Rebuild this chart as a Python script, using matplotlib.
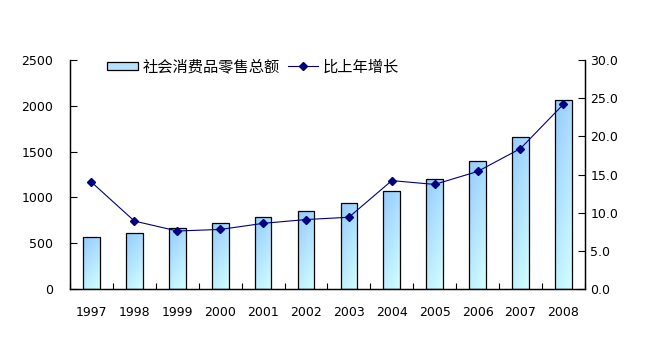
import numpy as np
import matplotlib
matplotlib.use('Agg')
from matplotlib import pyplot as plt
from matplotlib.lines import Line2D
from matplotlib.patches import Patch

plt.rcParams['font.family'] = ['DejaVu Sans']

years = ['1997', '1998', '1999', '2000', '2001', '2002', '2003', '2004', '2005', '2006', '2007', '2008']
retail_total = [564, 608, 663, 717, 786, 848, 935, 1066, 1204, 1397, 1656, 2060]
growth = [14.0, 8.9, 7.6, 7.8, 8.6, 9.1, 9.4, 14.2, 13.7, 15.4, 18.4, 24.2]

fig = plt.figure(figsize=(6.52, 3.41), dpi=100)
ax = fig.add_axes([0.1074, 0.1525, 0.7896, 0.6715])
ax2 = ax.twinx()

x = np.arange(len(years))
bars = ax.bar(x, retail_total, width=0.39, facecolor='none', edgecolor='black', linewidth=0.9, zorder=3)

# gradient fill inside each bar: blue at top-left, pale cyan at bottom
top = np.array([150, 203, 255]) / 255
bot = np.array([210, 255, 255]) / 255
gy, gx = np.mgrid[0:1:64j, 0:1:16j]
t = np.clip(0.7 * gy + 0.3 * (1 - gx), 0, 1)
img = top[None, None, :] * t[..., None] + bot[None, None, :] * (1 - t[..., None])
for b in bars:
    x0, w, h = b.get_x(), b.get_width(), b.get_height()
    im = ax.imshow(img, extent=[x0, x0 + w, 0, h], origin='lower', aspect='auto', zorder=2)
    im.set_clip_path(b)

ax.set_xlim(-0.5, len(years) - 0.5)
ax.set_ylim(0, 2500)
ax.set_yticks(np.arange(0, 2501, 500))
ax.set_xticks(x)
ax.set_xticklabels(years)
ax.set_xticks(np.arange(-0.5, len(years), 1), minor=True)
ax.tick_params(axis='x', which='major', length=0, pad=12, labelsize=9)
ax.tick_params(axis='x', which='minor', direction='in', length=4, width=0.8)
ax.tick_params(axis='y', direction='in', length=5, width=0.8, pad=12, labelsize=9)

ax2.plot(x, growth, color='#000080', linewidth=0.8, marker='D', markersize=4.5, zorder=4)
ax2.set_ylim(0, 30)
ax2.set_yticks(np.arange(0, 30.1, 5))
ax2.set_yticklabels(['%.1f' % v for v in np.arange(0, 30.1, 5)])
ax2.tick_params(axis='y', direction='in', length=5, width=0.8, pad=4, labelsize=9)

for a in (ax, ax2):
    a.spines['top'].set_visible(False)
    for s in ('left', 'right', 'bottom'):
        a.spines[s].set_linewidth(0.9)

handles = [Patch(facecolor='#b8e0ff', edgecolor='black', linewidth=0.9),
           Line2D([], [], color='#000080', linewidth=0.8, marker='D', markersize=4.5)]
labels = ['社会消费品零售总额', '比上年增长']
leg = ax.legend(handles, labels, loc='center left', bbox_to_anchor=(0.060, 0.97), ncol=2, frameon=False,
                prop={'family': ['Noto Sans CJK SC', 'DejaVu Sans'], 'size': 11},
                handlelength=2.0, handleheight=0.5, handletextpad=0.3, columnspacing=0.55,
                borderaxespad=0)

fig.savefig('out.png', dpi=100)
